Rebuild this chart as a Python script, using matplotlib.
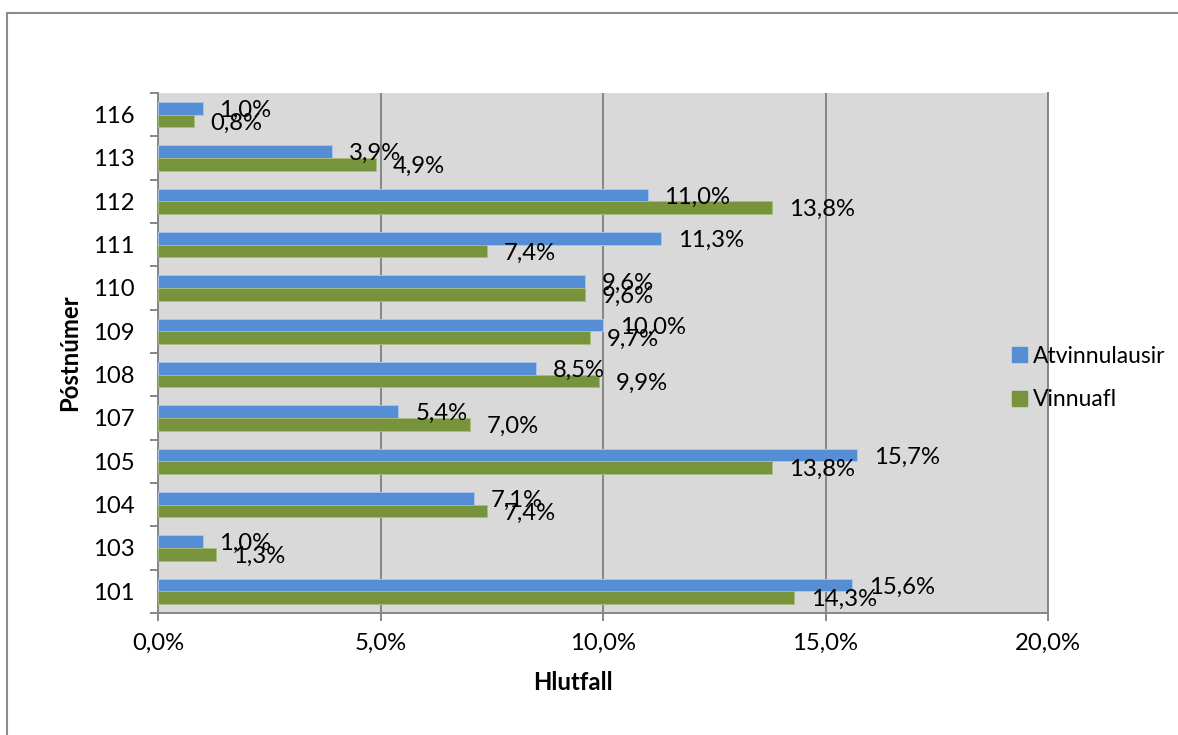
import matplotlib.pyplot as plt
from matplotlib.patches import Patch, Rectangle
import numpy as np

# Data (percent), categories listed from bottom to top
postnumer = ["101", "103", "104", "105", "107", "108", "109", "110", "111", "112", "113", "116"]
atvinnulausir = [15.6, 1.0, 7.1, 15.7, 5.4, 8.5, 10.0, 9.6, 11.3, 11.0, 3.9, 1.0]
vinnuafl = [14.3, 1.3, 7.4, 13.8, 7.0, 9.9, 9.7, 9.6, 7.4, 13.8, 4.9, 0.8]
x_ticks = [0, 5, 10, 15, 20]

blue = "#558ED5"
green = "#77933C"
grey = "#868686"

plt.rcParams['font.family'] = ['Lato', 'DejaVu Sans']
fs = 17.2

fig = plt.figure(figsize=(11.78, 7.35), dpi=100)
ax = fig.add_axes([158 / 1178, 1 - 613 / 735, (1048 - 158) / 1178, (613 - 93) / 735])
ax.set_facecolor("#D9D9D9")

#outer chart border (only top and left show in the reference)
fig.patches.append(Rectangle((7 / 1178, -0.05), 1.1, 1 - 13 / 735 + 0.05, transform=fig.transFigure,
                             fill=False, edgecolor="#8C8C8C", linewidth=1.5, clip_on=False))

pos = np.arange(len(postnumer))
h = 0.29
ax.barh(pos + h / 2, atvinnulausir, height=h, color=blue, edgecolor="#A9C4EA", linewidth=0.7, zorder=3)
ax.barh(pos - h / 2, vinnuafl, height=h, color=green, edgecolor="#A6BC7C", linewidth=0.7, zorder=3)

def pct(v):
    return ("%.1f" % v).replace(".", ",") + "%"

#data labels
for i in range(len(postnumer)):
    ax.annotate(pct(atvinnulausir[i]), xy=(atvinnulausir[i], pos[i] + h / 2), xytext=(12.2, -1.5),
                textcoords="offset points", va="center", ha="left", fontsize=fs, zorder=5)
    ax.annotate(pct(vinnuafl[i]), xy=(vinnuafl[i], pos[i] - h / 2), xytext=(12.2, -1.5),
                textcoords="offset points", va="center", ha="left", fontsize=fs, zorder=5)

ax.set_xlim(0, 20)
ax.set_ylim(-0.5, len(postnumer) - 0.5)
ax.set_xticks(x_ticks)
ax.set_xticklabels([pct(t) for t in x_ticks], fontsize=fs)
ax.set_yticks(pos)
ax.set_yticklabels(postnumer, fontsize=fs)
ax.set_yticks(np.arange(len(postnumer) + 1) - 0.5, minor=True)
ax.tick_params(axis="y", which="major", length=0, pad=17)
ax.tick_params(axis="y", which="minor", length=5.5, width=1.4, color=grey)
ax.tick_params(axis="x", which="major", length=5.5, width=1.4, color=grey, pad=9)

ax.grid(axis="x", color=grey, linewidth=1.4, zorder=1)
ax.set_axisbelow(True)
for s in ["top"]:
    ax.spines[s].set_visible(False)
for s in ["left", "bottom", "right"]:
    ax.spines[s].set_color(grey)
    ax.spines[s].set_linewidth(1.4)

fig.text(573 / 1178, 1 - 683 / 735, "Hlutfall", ha="center", va="center", fontsize=fs, fontweight="bold")
fig.text(70 / 1178, 1 - 353 / 735, "Póstnúmer", ha="center", va="center", rotation=90,
         fontsize=fs, fontweight="bold")

handles = [Patch(color=blue), Patch(color=green)]
fig.legend(handles, ["Atvinnulausir", "Vinnuafl"], loc="center left",
           bbox_to_anchor=(1012 / 1178, 1 - 378 / 735), frameon=False, fontsize=16.5,
           handlelength=0.65, handleheight=0.65, handletextpad=0.25, labelspacing=1.0,
           borderpad=0, borderaxespad=0)

plt.savefig("out.png", dpi=100)
